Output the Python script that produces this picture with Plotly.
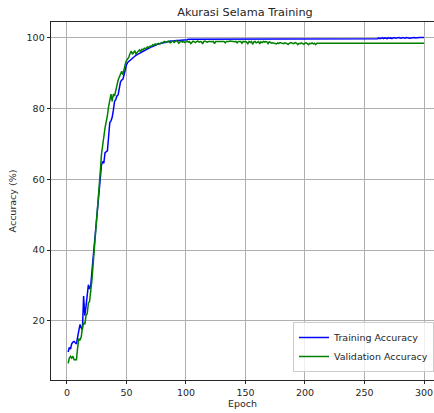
import plotly.graph_objects as go

epochs = list(range(1, 301))

train_acc = [
    11.2, 12.5, 12.0, 13.5, 14.0, 14.2, 13.8, 13.5, 15.5, 17.0,
    19.0, 18.0, 17.5, 27.0, 21.5, 24.0, 26.5, 30.2, 29.0, 30.0,
    34.0, 37.5, 41.0, 45.0, 49.5, 53.0, 57.0, 60.0, 64.0, 65.0,
    64.5, 67.5, 67.8, 68.0, 72.0, 76.0, 76.5, 77.5, 79.5, 82.0,
    82.5, 83.5, 83.8, 86.0, 87.5, 88.0, 88.2, 89.5, 91.0, 92.3,
    93.0, 93.3, 93.6, 94.0, 94.3, 94.5, 94.8, 95.0, 95.2, 95.4,
    95.5, 95.7, 96.0, 96.2, 96.3, 96.5, 96.6, 96.8, 97.0, 97.2,
    97.4, 97.5, 97.7, 97.8, 98.0, 98.1, 98.2, 98.3, 98.4, 98.5,
    98.6, 98.7, 98.7, 98.8, 98.9, 98.9, 99.0, 99.0, 99.1, 99.1,
    99.1, 99.2, 99.2, 99.2, 99.3, 99.3, 99.3, 99.4, 99.4, 99.4,
    99.4, 99.5, 99.5, 99.5, 99.5, 99.5, 99.6, 99.6, 99.6, 99.6,
    99.6, 99.6, 99.7, 99.7, 99.7, 99.7, 99.7, 99.7, 99.7, 99.7,
    99.7, 99.7, 99.7, 99.7, 99.7, 99.7, 99.7, 99.7, 99.7, 99.7,
    99.7, 99.7, 99.7, 99.7, 99.7, 99.7, 99.7, 99.7, 99.7, 99.7,
    99.7, 99.7, 99.7, 99.7, 99.7, 99.7, 99.7, 99.7, 99.7, 99.7,
    99.7, 99.7, 99.7, 99.7, 99.7, 99.7, 99.7, 99.7, 99.7, 99.7,
    99.7, 99.7, 99.7, 99.7, 99.7, 99.7, 99.7, 99.7, 99.7, 99.7,
    99.7, 99.7, 99.7, 99.7, 99.7, 99.7, 99.7, 99.7, 99.7, 99.7,
    99.7, 99.7, 99.7, 99.7, 99.7, 99.7, 99.7, 99.7, 99.7, 99.7,
    99.7, 99.7, 99.7, 99.7, 99.7, 99.7, 99.7, 99.7, 99.7, 99.7,
    99.7, 99.7, 99.7, 99.7, 99.7, 99.7, 99.7, 99.7, 99.7, 99.7,
    99.7, 99.7, 99.7, 99.7, 99.7, 99.7, 99.7, 99.7, 99.7, 99.7,
    99.7, 99.7, 99.7, 99.7, 99.7, 99.7, 99.7, 99.7, 99.7, 99.7,
    99.7, 99.7, 99.7, 99.7, 99.7, 99.7, 99.7, 99.7, 99.7, 99.7,
    99.7, 99.7, 99.7, 99.7, 99.7, 99.7, 99.7, 99.7, 99.7, 99.7,
    99.7, 99.7, 99.7, 99.7, 99.7, 99.7, 99.7, 99.7, 99.7, 99.7,
    99.7, 99.9, 99.7, 99.8, 100.0, 99.7, 99.9, 99.8, 99.7, 100.0,
    99.8, 99.9, 99.7, 99.9, 100.0, 99.8, 99.9, 99.8, 100.0, 99.9,
    99.8, 100.0, 99.9, 99.8, 100.0, 99.9, 100.0, 99.8, 99.9, 100.0,
    99.9, 100.0, 99.9, 100.0, 99.9, 100.0, 100.0, 99.9, 100.0, 100.0,
]

val_acc = [
    8.0, 9.5, 10.0, 9.5, 10.0, 9.0, 9.0, 9.0, 12.5, 15.0,
    14.5, 15.5, 18.0, 19.5, 19.0, 21.5, 22.0, 25.0, 25.5, 28.0,
    31.5, 36.0, 40.0, 45.0, 50.0, 54.0, 58.0, 62.0, 67.0, 69.0,
    72.0, 74.5, 76.0, 78.0, 80.5, 82.0, 84.0, 82.0, 84.0, 83.5,
    85.5, 86.5, 88.0, 89.0, 90.0, 90.5, 89.5, 91.5, 92.5, 93.5,
    94.0, 94.5, 95.5, 96.2, 95.3, 96.0, 96.3, 95.4, 96.0, 96.2,
    96.5, 96.0, 96.7, 96.5, 97.0, 96.8, 97.2, 97.4, 97.2, 97.6,
    97.5, 98.0, 97.8, 98.2, 98.0, 98.3, 98.4, 98.2, 98.5, 98.6,
    98.7, 98.9, 98.6, 98.8, 99.0, 98.7, 98.5, 98.9, 99.0, 98.6,
    98.8, 99.1, 98.9, 98.4, 98.8, 99.0, 98.7, 98.9, 98.6, 98.8,
    99.0, 98.7, 98.9, 98.3, 98.8, 99.0, 98.8, 98.6, 98.9, 99.0,
    98.7, 98.9, 98.8, 98.2, 98.9, 99.0, 98.8, 98.7, 98.9, 99.0,
    98.9, 98.8, 98.9, 98.3, 98.9, 98.9, 98.8, 98.9, 98.9, 98.8,
    98.9, 98.9, 98.5, 98.9, 98.8, 98.9, 99.0, 98.9, 98.8, 98.9,
    98.8, 98.9, 98.5, 98.9, 98.8, 98.9, 98.4, 98.9, 98.8, 98.9,
    98.7, 98.3, 98.9, 98.6, 98.9, 98.1, 98.8, 98.9, 98.5, 98.8,
    98.9, 98.2, 98.8, 98.6, 98.9, 98.7, 98.9, 98.8, 98.3, 98.8,
    98.6, 98.4, 98.5, 98.4, 98.3, 98.2, 98.5, 98.3, 98.6, 98.5,
    98.4, 98.3, 98.5, 98.4, 98.3, 98.1, 98.4, 98.6, 98.5, 98.3,
    98.4, 98.6, 98.4, 98.0, 98.4, 98.3, 98.5, 98.4, 98.1, 98.4,
    98.5, 98.3, 98.0, 98.4, 98.3, 98.5, 98.2, 98.4, 98.0, 98.4,
    98.4, 98.4, 98.4, 98.4, 98.4, 98.4, 98.4, 98.4, 98.4, 98.4,
    98.4, 98.4, 98.4, 98.4, 98.4, 98.4, 98.4, 98.4, 98.4, 98.4,
    98.4, 98.4, 98.4, 98.4, 98.4, 98.4, 98.4, 98.4, 98.4, 98.4,
    98.4, 98.4, 98.4, 98.4, 98.4, 98.4, 98.4, 98.4, 98.4, 98.4,
    98.4, 98.4, 98.4, 98.4, 98.4, 98.4, 98.4, 98.4, 98.4, 98.4,
    98.4, 98.4, 98.4, 98.4, 98.4, 98.4, 98.4, 98.4, 98.4, 98.4,
    98.4, 98.4, 98.4, 98.4, 98.4, 98.4, 98.4, 98.4, 98.4, 98.4,
    98.4, 98.4, 98.4, 98.4, 98.4, 98.4, 98.4, 98.4, 98.4, 98.4,
    98.4, 98.4, 98.4, 98.4, 98.4, 98.4, 98.4, 98.4, 98.4, 98.4,
]

x_ticks = [0, 50, 100, 150, 200, 250, 300]
y_ticks = [20, 40, 60, 80, 100]

FONT = "DejaVu Sans"
TXT = "#262626"

fig = go.Figure()
fig.add_trace(go.Scatter(x=epochs, y=train_acc, mode="lines", name="Training Accuracy",
                         line=dict(color="#0000ff", width=1.5)))
fig.add_trace(go.Scatter(x=epochs, y=val_acc, mode="lines", name="Validation Accuracy",
                         line=dict(color="#008000", width=1.5)))

fig.update_layout(
    width=434, height=413,
    margin=dict(l=51, r=0, t=22, b=33),
    paper_bgcolor="white", plot_bgcolor="white",
    font=dict(family=FONT, size=9.5, color=TXT),
    title=dict(text="Akurasi Selama Training", x=245/434, xanchor="center",
               y=1 - 12/413, yanchor="middle", font=dict(size=11.3, color=TXT)),
    showlegend=True,
    legend=dict(x=1, xanchor="right", y=8/358, yanchor="bottom",
                bgcolor="rgba(255,255,255,0.8)", bordercolor="#cccccc", borderwidth=1,
                font=dict(size=9.5, color=TXT), tracegroupgap=0, itemwidth=30),
)
fig.update_xaxes(
    range=[-13.4, 308.4], tickvals=x_ticks, ticks="outside", ticklen=3.5, tickwidth=0.8,
    tickcolor=TXT, showline=True, linecolor=TXT, linewidth=0.8, mirror=True,
    showgrid=True, gridcolor="#b0b0b0", gridwidth=0.8, zeroline=False,
    tickfont=dict(size=9.5),
    title=dict(text="Epoch", standoff=2, font=dict(size=9.5)),
)
fig.update_yaxes(
    range=[3.3, 104.4], tickvals=y_ticks, ticks="outside", ticklen=3.5, tickwidth=0.8,
    tickcolor=TXT, showline=True, linecolor=TXT, linewidth=0.8, mirror=False,
    showgrid=True, gridcolor="#b0b0b0", gridwidth=0.8, zeroline=False,
    tickfont=dict(size=9.5),
    title=dict(text="Accuracy (%)", standoff=8, font=dict(size=9.5)),
)

fig.write_html("out.html", config={"displayModeBar": False},
               post_script="document.body.style.margin='0';")
